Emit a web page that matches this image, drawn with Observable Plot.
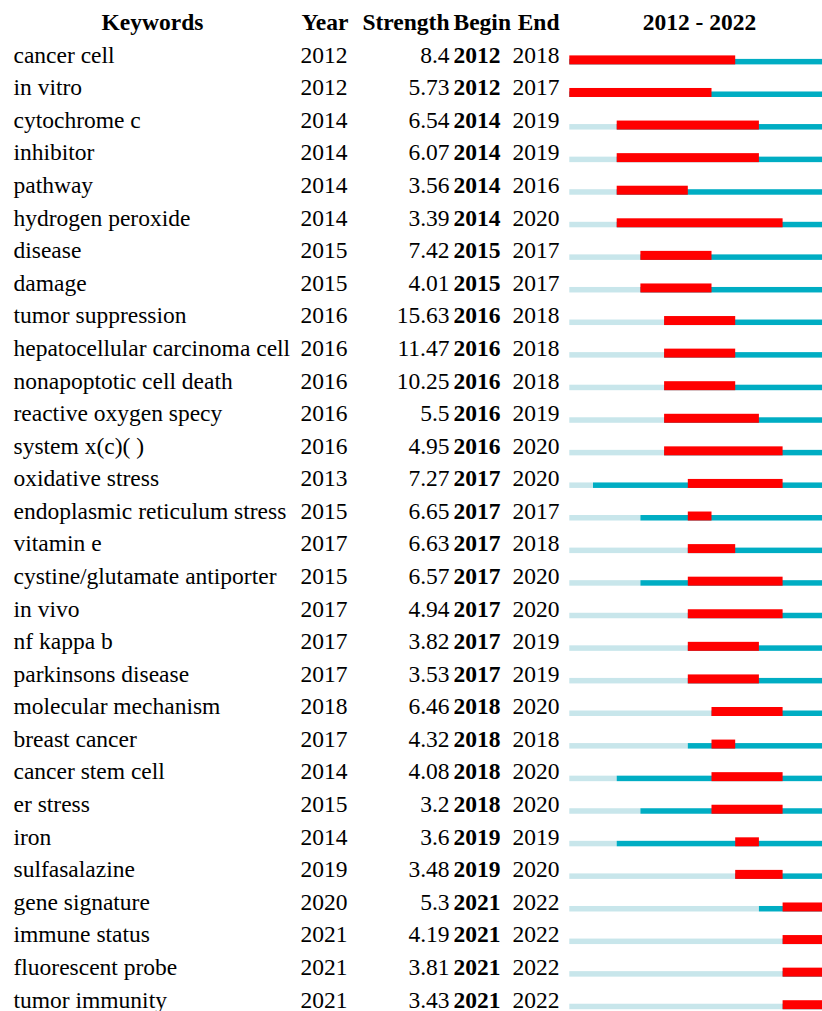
<!DOCTYPE html>
<html>
<head>
<meta charset="utf-8">
<script src="https://cdn.jsdelivr.net/npm/d3@7"></script>
<script src="https://cdn.jsdelivr.net/npm/@observablehq/plot@0.6"></script>
<style>
  html, body { margin: 0; padding: 0; background: white; overflow: hidden; }
</style>
</head>
<body>
<div id="chart"></div>
<script>
// ---- data ----
const headers = ["Keywords", "Year", "Strength", "Begin", "End"];
const years = [2012, 2013, 2014, 2015, 2016, 2017, 2018, 2019, 2020, 2021, 2022];
const keywords = [
  "cancer cell", "in vitro", "cytochrome c", "inhibitor", "pathway",
  "hydrogen peroxide", "disease", "damage", "tumor suppression",
  "hepatocellular carcinoma cell", "nonapoptotic cell death",
  "reactive oxygen specy", "system x(c)( )", "oxidative stress",
  "endoplasmic reticulum stress", "vitamin e", "cystine/glutamate antiporter",
  "in vivo", "nf kappa b", "parkinsons disease", "molecular mechanism",
  "breast cancer", "cancer stem cell", "er stress", "iron", "sulfasalazine",
  "gene signature", "immune status", "fluorescent probe", "tumor immunity"
];
const firstYear = [2012, 2012, 2014, 2014, 2014, 2014, 2015, 2015, 2016, 2016, 2016, 2016, 2016, 2013, 2015,
                   2017, 2015, 2017, 2017, 2017, 2018, 2017, 2014, 2015, 2014, 2019, 2020, 2021, 2021, 2021];
const strength = [8.4, 5.73, 6.54, 6.07, 3.56, 3.39, 7.42, 4.01, 15.63, 11.47, 10.25, 5.5, 4.95, 7.27, 6.65,
                  6.63, 6.57, 4.94, 3.82, 3.53, 6.46, 4.32, 4.08, 3.2, 3.6, 3.48, 5.3, 4.19, 3.81, 3.43];
const beginYear = [2012, 2012, 2014, 2014, 2014, 2014, 2015, 2015, 2016, 2016, 2016, 2016, 2016, 2017, 2017,
                   2017, 2017, 2017, 2017, 2017, 2018, 2018, 2018, 2018, 2019, 2019, 2021, 2021, 2021, 2021];
const endYear = [2018, 2017, 2019, 2019, 2016, 2020, 2017, 2017, 2018, 2018, 2018, 2019, 2020, 2020, 2017,
                 2018, 2020, 2020, 2019, 2019, 2020, 2018, 2020, 2020, 2019, 2020, 2022, 2022, 2022, 2022];

const rows = keywords.map((k, i) => ({
  keyword: k, year: firstYear[i], strength: strength[i], begin: beginYear[i], end: endYear[i]
}));
const y0 = years[0], y1 = years[years.length - 1] + 1;

// ---- layout / style ----
const rowH = 32.58;
const firstBottom = 64.4;
const font = "Liberation Serif";
const fs = 23.5;
const red = "#ff0000", teal = "#00adc3", light = "#c8e6eb";
const textRow = {y: "keyword", frameAnchor: "left", lineAnchor: "bottom", dy: rowH / 2 - 2.2,
  fontSize: fs, fontFamily: font, fill: "black"};
const head = (t, dx, anchor) => Plot.text([t], {text: d => d, frameAnchor: "top-left", lineAnchor: "bottom",
  dx, dy: 29, textAnchor: anchor, fontSize: fs, fontFamily: font, fontWeight: "bold", fill: "black"});

const chart = Plot.plot({
  width: 822,
  height: 1011,
  margin: 0,
  style: {fontFamily: font, background: "white", overflow: "hidden"},
  x: {domain: [y0, y1], range: [569.3, 830], axis: null},
  y: {domain: keywords, range: [firstBottom - rowH, firstBottom - rowH + rowH * keywords.length],
      padding: 0, round: false, axis: null},
  marks: [
    // headers
    head(headers[0], 152, "middle"),
    head(headers[1], 301, "start"),
    head(headers[2], 449, "end"),
    head(headers[3], 453, "start"),
    head(headers[4], 559, "end"),
    head(`${years[0]} - ${years[years.length - 1]}`, 699, "middle"),
    // table columns
    Plot.text(rows, {...textRow, text: "keyword", dx: 13, textAnchor: "start"}),
    Plot.text(rows, {...textRow, text: d => String(d.year), dx: 300, textAnchor: "start"}),
    Plot.text(rows, {...textRow, text: d => String(d.strength), dx: 449, textAnchor: "end"}),
    Plot.text(rows, {...textRow, text: d => String(d.begin), dx: 453, textAnchor: "start", fontWeight: "bold"}),
    Plot.text(rows, {...textRow, text: d => String(d.end), dx: 559, textAnchor: "end"}),
    // timeline bars
    Plot.barX(rows, {y: "keyword", x1: () => y0, x2: "year", fill: light, insetTop: rowH - 5.5}),
    Plot.barX(rows, {y: "keyword", x1: "year", x2: () => y1, fill: teal, insetTop: rowH - 5.5}),
    Plot.barX(rows, {y: "keyword", x1: "begin", x2: d => d.end + 1, fill: red, insetTop: rowH - 9})
  ]
});
document.getElementById("chart").append(chart);
</script>
</body>
</html>
